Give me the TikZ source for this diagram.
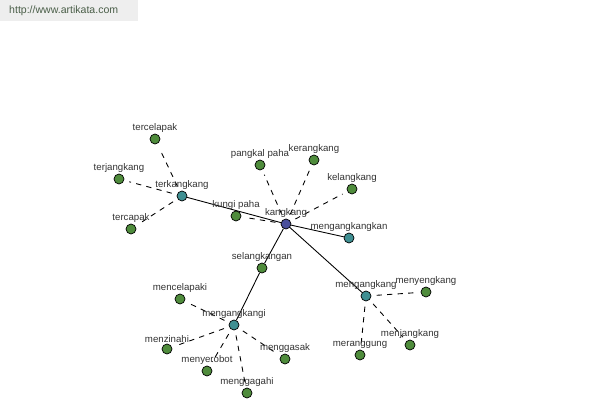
\documentclass[tikz,border=0pt]{standalone}
\usepackage{fontspec}
\setmainfont{Liberation Sans}
\usetikzlibrary{positioning,backgrounds}
\definecolor{hubBlue} {HTML}{4A4F9C}
\definecolor{midTeal} {HTML}{3F8F92}
\definecolor{leafGrn} {HTML}{4F8C3C}
\definecolor{markGray}{HTML}{EEEEEE}
\definecolor{markText}{HTML}{4A5E48}

\begin{document}
\begin{tikzpicture}[
  font=\fontsize{5.5}{6.5}\selectfont,
  every label/.style={text=black!80,inner sep=0.5pt},
  node/.style={circle,draw=black,line width=0.4pt,minimum size=2mm,inner sep=0pt},
  hub/.style={node,fill=hubBlue},
  mid/.style={node,fill=midTeal},
  leaf/.style={node,fill=leafGrn},
  derived/.style={draw=black,line width=0.5pt},
  related/.style={draw=black,line width=0.5pt,dashed,shorten <=3pt,shorten >=3pt},
]
\useasboundingbox (0,0) rectangle (12,8);

% ---- source mark ----------------------------------------------------------
\fill[markGray] (0,8) rectangle (2.76,7.58);
\node[anchor=west,text=markText,font=\fontsize{6}{7}\selectfont] (src) at (0.06,7.79) {http://www.artikata.com};

% ---- root and derived words -----------------------------------------------
\node[hub,label=above:{kangkang}]       (kangkang)       at (5.72,3.52) {};
\node[mid,label=above:{terkangkang}]    (terkangkang)    at (3.64,4.08) {};
\node[mid,label=above:{mengangkangkan}] (mengangkangkan) at (6.98,3.24) {};
\node[mid,label=above:{mengangkang}]    (mengangkang)    at (7.32,2.08) {};
\node[leaf,label=above:{selangkangan}]  (selangkangan)   at (5.24,2.64) {};
\node[mid,label=above:{mengangkangi}]   (mengangkangi)   at (4.68,1.50) {};

% ---- related words ----------------------------------------------------------
\node[leaf,label=above:{kungi paha}]    (kungipaha)   at (4.72,3.68) {};
\node[leaf,label=above:{pangkal paha}]  (pangkalpaha) at (5.20,4.70) {};
\node[leaf,label=above:{kerangkang}]    (kerangkang)  at (6.28,4.80) {};
\node[leaf,label=above:{kelangkang}]    (kelangkang)  at (7.04,4.22) {};

\node[leaf,label=above:{tercelapak}]    (tercelapak)  at (3.10,5.22) {};
\node[leaf,label=above:{terjangkang}]   (terjangkang) at (2.38,4.42) {};
\node[leaf,label=above:{tercapak}]      (tercapak)    at (2.62,3.42) {};

\node[leaf,label=above:{menyengkang}]   (menyengkang) at (8.52,2.16) {};
\node[leaf,label=above:{menjangkang}]   (menjangkang) at (8.20,1.10) {};
\node[leaf,label=above:{meranggung}]    (meranggung)  at (7.20,0.90) {};

\node[leaf,label=above:{mencelapaki}]   (mencelapaki) at (3.60,2.02) {};
\node[leaf,label=above:{menzinahi}]     (menzinahi)   at (3.34,1.02) {};
\node[leaf,label=above:{menyerobot}]    (menyerobot)  at (4.14,0.58) {};
\node[leaf,label=above:{menggagahi}]    (menggagahi)  at (4.94,0.14) {};
\node[leaf,label=above:{menggasak}]     (menggasak)   at (5.70,0.82) {};

% ---- edges behind the dots -------------------------------------------------
\begin{scope}[on background layer]
  % derivation
  \draw[derived] (kangkang) -- (terkangkang);
  \draw[derived] (kangkang) -- (mengangkangkan);
  \draw[derived] (kangkang) -- (mengangkang);
  \draw[derived] (kangkang) -- (selangkangan);
  \draw[derived] (selangkangan) -- (mengangkangi);
  % related
  \draw[related] (kangkang) -- (kungipaha);
  \draw[related] (kangkang) -- (pangkalpaha);
  \draw[related] (kangkang) -- (kerangkang);
  \draw[related] (kangkang) -- (kelangkang);
  \draw[related] (terkangkang) -- (tercelapak);
  \draw[related] (terkangkang) -- (terjangkang);
  \draw[related] (terkangkang) -- (tercapak);
  \draw[related] (mengangkang) -- (menyengkang);
  \draw[related] (mengangkang) -- (menjangkang);
  \draw[related] (mengangkang) -- (meranggung);
  \draw[related] (mengangkangi) -- (mencelapaki);
  \draw[related] (mengangkangi) -- (menzinahi);
  \draw[related] (mengangkangi) -- (menyerobot);
  \draw[related] (mengangkangi) -- (menggagahi);
  \draw[related] (mengangkangi) -- (menggasak);
\end{scope}

\end{tikzpicture}
\end{document}
